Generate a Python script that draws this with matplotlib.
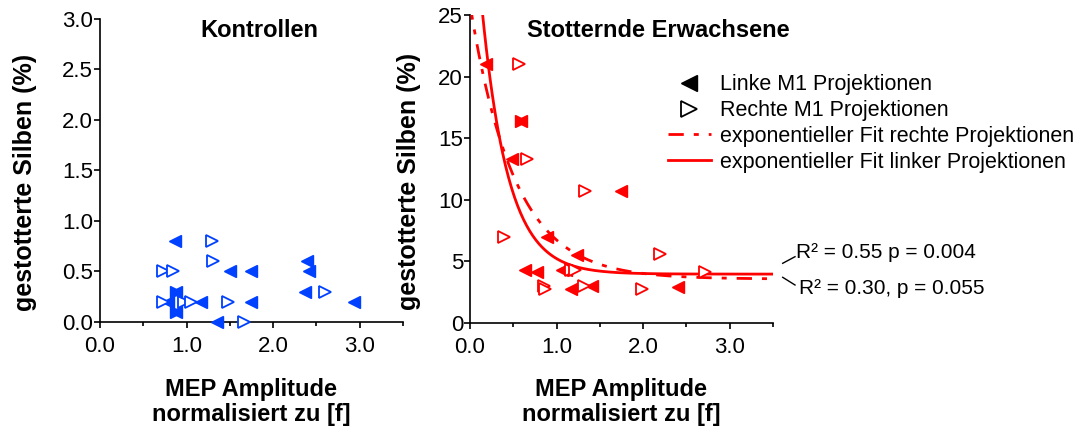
import matplotlib
matplotlib.use('Agg')
import matplotlib.pyplot as plt
from matplotlib.lines import Line2D
from matplotlib.ticker import MultipleLocator, FormatStrFormatter
import numpy as np

plt.rcParams['font.family'] = ['Liberation Sans', 'DejaVu Sans']

BLUE = '#0040ff'
RED = '#ff0000'

# Kontrollen
ctrl_left_x = [0.87, 1.50, 1.74, 2.39, 2.41, 2.37, 2.93, 1.74, 1.17, 0.79, 1.35]
ctrl_left_y = [0.8, 0.5, 0.5, 0.6, 0.5, 0.3, 0.2, 0.2, 0.2, 0.2, 0.0]
ctrl_right_x = [0.73, 0.84, 1.30, 1.31, 2.60, 1.48, 1.66, 0.73, 0.97, 1.05]
ctrl_right_y = [0.5, 0.5, 0.8, 0.6, 0.3, 0.2, 0.0, 0.2, 0.2, 0.2]
ctrl_both_x = [0.88, 0.88]
ctrl_both_y = [0.3, 0.1]

# Stotternde Erwachsene
stut_left_x = [0.19, 0.49, 1.75, 0.89, 1.24, 0.63, 0.77, 1.06, 1.11, 1.41, 1.17, 2.40]
stut_left_y = [21.0, 13.3, 10.7, 7.0, 5.5, 4.3, 4.1, 4.3, 4.3, 3.0, 2.7, 2.9]
stut_right_x = [0.57, 0.66, 1.33, 0.39, 2.19, 1.17, 1.21, 0.85, 0.87, 1.32, 1.99, 2.71]
stut_right_y = [21.0, 13.3, 10.7, 7.0, 5.6, 4.3, 4.3, 3.0, 2.7, 3.0, 2.7, 4.1]
stut_both_x = [0.59]
stut_both_y = [16.4]

# exponentielle Fits: y = plateau + a * exp(-k x)
fit_left = (3.95, 34.1, 3.3)
fit_right = (3.55, 22.3, 1.95)

DASHDOT = (0, (5.5, 3.6, 1.8, 3.6))


def style_axes(ax, ymax, ystep, yfmt):
    ax.spines['top'].set_visible(False)
    ax.spines['right'].set_visible(False)
    for s in ('left', 'bottom'):
        ax.spines[s].set_linewidth(1.2)
    ax.set_xlim(0, 3.5)
    ax.set_ylim(0, ymax)
    ax.xaxis.set_major_locator(MultipleLocator(1.0))
    ax.xaxis.set_minor_locator(MultipleLocator(0.5))
    ax.xaxis.set_major_formatter(FormatStrFormatter('%.1f'))
    ax.yaxis.set_major_locator(MultipleLocator(ystep))
    ax.yaxis.set_major_formatter(FormatStrFormatter(yfmt))
    ax.tick_params(axis='both', which='major', direction='out', length=4, width=1.2, labelsize=16)
    ax.tick_params(axis='x', which='minor', direction='out', length=3, width=1.2)
    ax.tick_params(axis='x', pad=6)
    ax.tick_params(axis='y', pad=1)
    ax.set_xlabel('MEP Amplitude\nnormalisiert zu [f]', fontsize=17, fontweight='bold',
                  labelpad=15, linespacing=1.1)
    ax.set_ylabel('gestotterte Silben (%)', fontsize=18, fontweight='bold')


def scatter(ax, lx, ly, rx, ry, bx, by, color):
    ax.plot(lx, ly, '<', ms=8, color=color, mec=color, ls='none', clip_on=False, zorder=4)
    ax.plot(rx, ry, '>', ms=8, mfc='white', mec=color, mew=1.3, ls='none', clip_on=False, zorder=4)
    ax.plot(bx, by, '<', ms=8, color=color, ls='none', clip_on=False, zorder=5)
    ax.plot(bx, by, '>', ms=8, color=color, ls='none', clip_on=False, zorder=5)


fig = plt.figure(figsize=(10.89, 4.30), dpi=100)
ax1 = fig.add_axes([0.0918, 0.2512, 0.2782, 0.7047])
ax2 = fig.add_axes([0.4316, 0.2495, 0.2782, 0.7156])

style_axes(ax1, 3.0, 0.5, '%.1f')
style_axes(ax2, 25, 5, '%d')

scatter(ax1, ctrl_left_x, ctrl_left_y, ctrl_right_x, ctrl_right_y, ctrl_both_x, ctrl_both_y, BLUE)
scatter(ax2, stut_left_x, stut_left_y, stut_right_x, stut_right_y, stut_both_x, stut_both_y, RED)

xs = np.linspace(0, 3.5, 300)
c, a, k = fit_right
ax2.plot(xs, c + a * np.exp(-k * xs), color=RED, lw=2, ls=DASHDOT, zorder=3)
c, a, k = fit_left
ax2.plot(xs, c + a * np.exp(-k * xs), color=RED, lw=2, zorder=3)

ax1.yaxis.set_label_coords(-0.207, 0.46)
ax2.yaxis.set_label_coords(-0.162, 0.46)

ax1.text(0.525, 0.963, 'Kontrollen', transform=ax1.transAxes, ha='center', va='center',
         fontsize=17, fontweight='bold')
ax2.text(0.62, 0.951, 'Stotternde Erwachsene', transform=ax2.transAxes, ha='center', va='center',
         fontsize=17, fontweight='bold')

handles = [
    Line2D([], [], marker='<', ms=12, color='black', ls='none'),
    Line2D([], [], marker='>', ms=12, mfc='white', mec='black', mew=1.3, ls='none'),
    Line2D([], [], color=RED, lw=2, ls=DASHDOT),
    Line2D([], [], color=RED, lw=2),
]
labels = ['Linke M1 Projektionen', 'Rechte M1 Projektionen',
          'exponentieller Fit rechte Projektionen', 'exponentieller Fit linker Projektionen']
fig.legend(handles, labels, loc='upper left', bbox_to_anchor=(0.613, 0.827), frameon=False,
           fontsize=15.5, handlelength=2.0, handletextpad=0.45, labelspacing=0.22, borderpad=0,
           borderaxespad=0)

fig.text(796 / 1089, 1 - 253 / 430, 'R² = 0.55 p = 0.004', fontsize=15, va='center', ha='left')
fig.text(799 / 1089, 1 - 288 / 430, 'R² = 0.30, p = 0.055', fontsize=15, va='center', ha='left')
fig.add_artist(Line2D([782.7 / 1089, 795 / 1089], [1 - 263.3 / 430, 1 - 256.7 / 430], color='black', lw=1))
fig.add_artist(Line2D([782.7 / 1089, 795 / 1089], [1 - 277.3 / 430, 1 - 285 / 430], color='black', lw=1))

fig.savefig('out.png', dpi=100)
